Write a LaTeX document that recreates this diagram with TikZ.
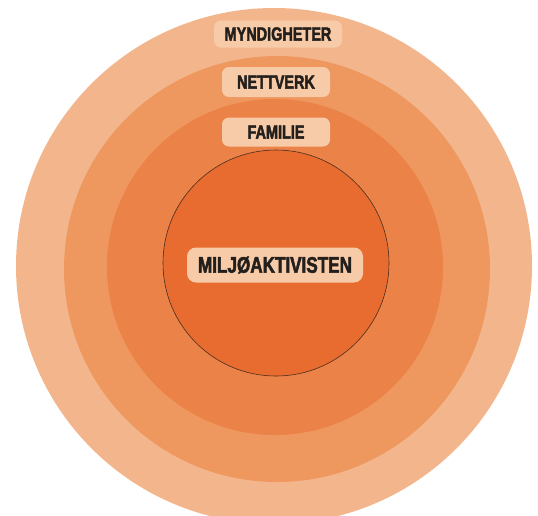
\documentclass[tikz,border=0pt]{standalone}
\usepackage{fontspec}
\usepackage{tikz}
\newfontfamily\lblfont[FakeStretch=0.76, FakeBold=2.2]{Liberation Sans}
\definecolor{ringA}{HTML}{F3B68C}
\definecolor{ringB}{HTML}{EE975F}
\definecolor{ringC}{HTML}{EB8248}
\definecolor{ringD}{HTML}{E86C2F}
\definecolor{pill}{HTML}{F8CBA8}
\definecolor{ink}{HTML}{231F1C}

\begin{document}
\begin{tikzpicture}[
        x=1pt, y=-1pt,
        tag/.style={rectangle, rounded corners=7pt, fill=pill, text=ink,
            font=\lblfont\bfseries\fontsize{19}{19}\selectfont, inner sep=0pt},
        bigtag/.style={tag, rounded corners=9pt,
            font=\lblfont\bfseries\fontsize{22.5}{22.5}\selectfont}
    ]
        \useasboundingbox (0,0) rectangle (538,515);
        \begin{scope}
            \clip (0,0) rectangle (538,515);
            \fill[ringA] (274,266) circle[radius=258pt];
            \fill[ringB] (277,269) circle[radius=213pt];
            \fill[ringC] (275,267) circle[radius=168pt];
            \fill[ringD, draw=ink!80!ringD, line width=0.6pt] (276,263) circle[radius=113pt];
        \end{scope}

        \node[tag, minimum width=128pt, minimum height=27pt] (myn) at (278,34) {MYNDIGHETER};
        \node[tag, minimum width=108pt, minimum height=30pt] (nett) at (276,82) {NETTVERK};
        \node[tag, minimum width=108pt, minimum height=29pt] (fam) at (276,132) {FAMILIE};
        \node[bigtag, minimum width=176pt, minimum height=35pt] (milj) at (275,265) {MILJØAKTIVISTEN};
    \end{tikzpicture}
\end{document}
